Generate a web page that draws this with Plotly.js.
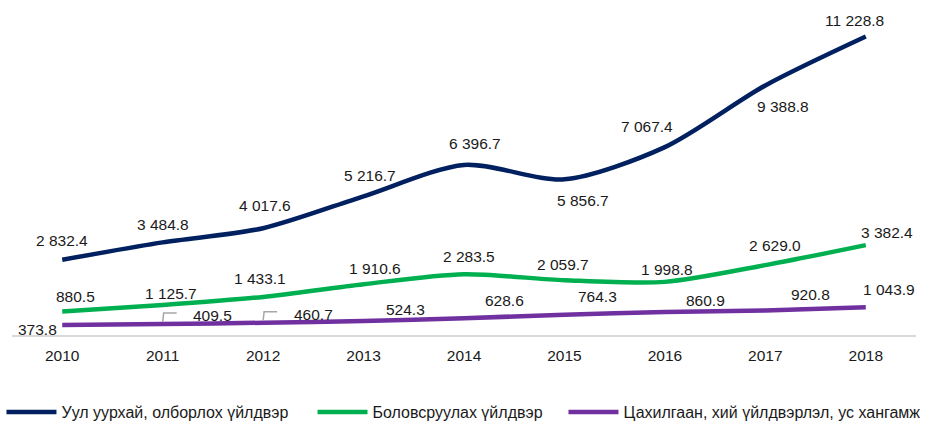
<!DOCTYPE html>
<html>
<head>
<meta charset="utf-8">
<script src="https://cdn.plot.ly/plotly-3.0.1.min.js"></script>
<style>html,body{margin:0;padding:0;background:#fff;}#chart{width:926px;height:421px;}#err{position:absolute;top:0;left:0;color:red;font:12px sans-serif;}</style>
</head>
<body>
<div id="chart"></div>
<div id="err"></div>
<script>
// ---- data ----
const years = ["2010","2011","2012","2013","2014","2015","2016","2017","2018"];
const mining = [2832.4, 3484.8, 4017.6, 5216.7, 6396.7, 5856.7, 7067.4, 9388.8, 11228.8];
const manufacturing = [880.5, 1125.7, 1433.1, 1910.6, 2283.5, 2059.7, 1998.8, 2629.0, 3382.4];
const utilities = [373.8, 409.5, 460.7, 524.3, 628.6, 764.3, 860.9, 920.8, 1043.9];
const seriesNames = ["Уул уурхай, олборлох үйлдвэр", "Боловсруулах үйлдвэр", "Цахилгаан, хий үйлдвэрлэл, ус хангамж"];

// ---- styling ----
const colors = ["#002060", "#00b050", "#7030a0"];
const FONT = "Liberation Sans, Arial, sans-serif";
// label offsets in pixels [dx, dy(up)]
const shiftMining = [[0,19],[0,18],[2,23],[6,21],[11,21],[19,-21],[-18,21],[18,-21],[-11,16]];
const shiftManuf = [[13,15],[8,12],[-3,18],[11,16],[5,18],[-1,16],[2,12],[10,20],[21,13]];
const shiftUtil = [[-25,-4],[50,9],[50,8],[42,12],[40,18],[33,18],[41,12],[45,16],[23,18]];
const leaderIdx = [1,2]; // utility labels with leader lines
const legendX = [0.0016, 0.3375, 0.6085]; // container fractions

function fmt(v){
  const s = v.toFixed(1);
  const parts = s.split(".");
  return parts[0].replace(/\B(?=(\d{3})+(?!\d))/g, " ") + "." + parts[1];
}

try {
const all = [mining, manufacturing, utilities];
const shifts = [shiftMining, shiftManuf, shiftUtil];
const legendIds = ["legend", "legend2", "legend3"];

const traces = all.map((vals, k) => ({
  type: "scatter",
  mode: "lines",
  x: years,
  y: vals,
  name: seriesNames[k],
  legend: legendIds[k],
  line: {color: colors[k], width: 4.5, shape: "spline", smoothing: 0.8},
  hoverinfo: "skip"
}));

const annotations = [];
all.forEach((vals, k) => {
  vals.forEach((v, i) => {
    annotations.push({
      x: i, y: v, xref: "x", yref: "y",
      text: fmt(v), showarrow: false,
      xshift: shifts[k][i][0], yshift: shifts[k][i][1],
      font: {family: FONT, size: 15.5, color: "#1a1a1a"}
    });
  });
});

const shapes = leaderIdx.map(i => ({
  type: "path",
  xref: "x", yref: "y",
  xsizemode: "pixel", ysizemode: "pixel",
  xanchor: i, yanchor: utilities[i],
  path: "M0,2 L1,11 L14,11",
  line: {color: "#a6a6a6", width: 1.5}
}));

const layout = {
  width: 926, height: 421,
  margin: {l: 12, r: 10, t: 16, b: 86},
  paper_bgcolor: "#fff", plot_bgcolor: "#fff",
  font: {family: FONT, size: 16, color: "#262626"},
  showlegend: true,
  xaxis: {
    type: "category", range: [-0.5, 8.5],
    showgrid: false, zeroline: false,
    showline: true, linecolor: "#d9d9d9", linewidth: 1.5,
    ticks: "", ticklabelstandoff: 6,
    tickfont: {family: FONT, size: 15.5, color: "#1a1a1a"}
  },
  yaxis: {
    range: [0, 12000], visible: false, showgrid: false, zeroline: false
  },
  annotations: annotations,
  shapes: shapes
};
legendIds.forEach((id, k) => {
  layout[id] = {
    orientation: "h", xref: "container", x: legendX[k], xanchor: "left",
    yref: "container", y: 0.0214, yanchor: "middle",
    font: {family: FONT, size: 16, color: "#1a1a1a"},
    itemwidth: 50, bgcolor: "rgba(0,0,0,0)"
  };
});

Plotly.newPlot("chart", traces, layout, {staticPlot: true, displayModeBar: false})
  .catch(e => { document.getElementById("err").textContent = "P: " + e; });
} catch (e) {
  document.getElementById("err").textContent = "E: " + e;
}
</script>
</body>
</html>
